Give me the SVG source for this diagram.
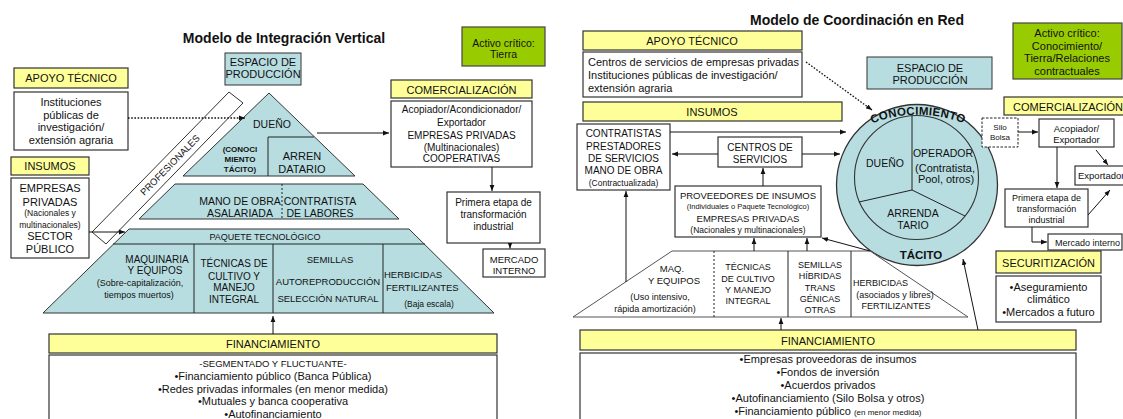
<svg xmlns="http://www.w3.org/2000/svg" width="1123" height="419" viewBox="0 0 1123 419">
<defs>
<style>
text{font-family:"Liberation Sans",Arial,sans-serif;fill:#111}
.c{text-anchor:middle}
.b{font-weight:bold}
.f7{font-size:7.5px}.f8{font-size:8px}.f85{font-size:8.5px}.f9{font-size:9px}.f95{font-size:9.5px}.f10{font-size:10px}.f105{font-size:10.5px}.f11{font-size:11px}.f115{font-size:11.5px}.f14{font-size:14px}
.box{fill:#fff;stroke:#333;stroke-width:1.2}
.yel{fill:#ffff99;stroke:#333;stroke-width:1.2}
.teal{fill:#b7dde1;stroke:#333;stroke-width:1}
.grn{fill:#99cc00;stroke:#444;stroke-width:1.2}
.ln{fill:none;stroke:#222;stroke-width:1}
.arr{fill:none;stroke:#111;stroke-width:1;marker-end:url(#ah)}
.dot{stroke-dasharray:1.6 1.6;stroke-width:1.3}
.dash{stroke-dasharray:2 2}
</style>
<marker id="ah" viewBox="0 0 10 10" refX="10" refY="5" markerWidth="6" markerHeight="6" orient="auto" markerUnits="userSpaceOnUse"><path d="M0,1 L10,5 L0,9 z" fill="#111"/></marker>
<path id="arcTop" d="M 862,128 A 125 125 0 0 1 974,128" fill="none"/>
</defs>
<rect width="1123" height="419" fill="#fff"/>

<!-- ================= LEFT: Modelo de Integración Vertical ================= -->
<g id="title-left"><text x="284" y="43" class="c b f14">Modelo de Integración Vertical</text></g>

<g id="activo-left"><rect x="462" y="27" width="83" height="39" class="grn"/>
<text x="503.5" y="47" class="c f105">Activo crítico:</text><text x="503.5" y="58" class="c f105">Tierra</text></g>

<g id="espacio-left"><rect x="225" y="53" width="76" height="32" class="teal"/>
<text x="263" y="66" class="c f11">ESPACIO DE</text><text x="263" y="78" class="c f11">PRODUCCIÓN</text></g>

<g id="apoyo-left"><rect x="14" y="68" width="114" height="20" class="yel"/>
<text x="71" y="82" class="c f11">APOYO TÉCNICO</text></g>
<g id="instituciones-left"><rect x="14" y="92" width="114" height="58" class="box"/>
<text x="71" y="106" class="c f11">Instituciones</text><text x="71" y="119" class="c f11">públicas de</text>
<text x="71" y="131" class="c f11">investigación/</text><text x="71" y="144" class="c f11">extensión agraria</text></g>

<g id="insumos-left"><rect x="11" y="157" width="78" height="18" class="yel"/>
<text x="50" y="170" class="c f11">INSUMOS</text></g>
<g id="insumos-content-left"><rect x="11" y="178" width="78" height="80" class="box"/>
<text x="50" y="192" class="c f11">EMPRESAS</text><text x="50" y="206" class="c f11">PRIVADAS</text>
<text x="50" y="216" class="c f85">(Nacionales y</text><text x="50" y="228" class="c f85">multinacionales)</text>
<text x="50" y="240" class="c f11">SECTOR</text><text x="50" y="253" class="c f11">PÚBLICO</text></g>

<g id="profesionales"><polygon points="229,92 243,103 106,244 92,232" fill="#fff" stroke="#333" stroke-width="1"/>
<text transform="translate(172.4,167.4) rotate(-45.6)" class="c f95">PROFESIONALES</text></g>

<g id="piramide-duenio"><polygon points="269,93 355,176 183,176" class="teal"/>
<polyline points="268,176 268,137 314,137" class="ln"/>
<text x="272" y="128" class="c f105">DUEÑO</text>
<text x="240" y="152" class="c b f8">(CONOCI</text><text x="240" y="162" class="c b f8">MIENTO</text><text x="240" y="172" class="c b f8">TÁCITO)</text>
<text x="302" y="160" class="c f11">ARREN</text><text x="302" y="173" class="c f11">DATARIO</text></g>

<g id="piramide-mano-obra"><polygon points="175,184 363,184 399,219 139,219" class="teal"/>
<line x1="282" y1="184" x2="282" y2="219" class="ln dash"/>
<text x="240" y="205" class="c f105">MANO DE OBRA</text><text x="240" y="216.5" class="c f105">ASALARIADA</text>
<text x="320" y="205" class="c f105">CONTRATISTA</text><text x="320" y="216.5" class="c f105">DE LABORES</text></g>

<g id="piramide-paquete"><polygon points="129,229 409,229 494,313 43,313" class="teal"/>
<line x1="113" y1="244" x2="425" y2="244" class="ln"/>
<line x1="194" y1="244" x2="194" y2="313" class="ln"/>
<line x1="273" y1="244" x2="273" y2="313" class="ln"/>
<line x1="383" y1="244" x2="383" y2="313" class="ln"/>
<text x="265" y="240" class="c f9">PAQUETE TECNOLÓGICO</text>
<text x="157" y="263" class="c f10">MAQUINARIA</text><text x="155" y="274" class="c f10">Y EQUIPOS</text>
<text x="140" y="286" class="c f9">(Sobre-capitalización,</text><text x="139" y="298" class="c f9">tiempos muertos)</text>
<text x="234" y="267" class="c f10">TÉCNICAS DE</text><text x="234" y="280" class="c f10">CULTIVO Y</text>
<text x="234" y="291" class="c f10">MANEJO</text><text x="234" y="303" class="c f10">INTEGRAL</text>
<text x="330" y="263" class="c f95">SEMILLAS</text><text x="328" y="284.5" class="c f95">AUTOREPRODUCCIÓN</text>
<text x="328" y="301.5" class="c f95">SELECCIÓN NATURAL</text>
<text x="384" y="277.5" class="f95">HERBICIDAS</text><text x="386" y="290.5" class="f95">FERTILIZANTES</text>
<text x="429" y="307" class="c f85">(Baja escala)</text></g>

<g id="comercializacion-left"><rect x="391" y="80" width="141" height="18" class="yel"/>
<text x="461.5" y="94" class="c f11">COMERCIALIZACIÓN</text></g>
<g id="comercializacion-content-left"><rect x="391" y="101" width="141" height="66" class="box"/>
<text x="461.5" y="113" class="c f10">Acopiador/Acondicionador/</text><text x="461.5" y="125.5" class="c f10">Exportador</text>
<text x="461.5" y="139" class="c f10">EMPRESAS PRIVADAS</text><text x="461.5" y="150.5" class="c f10">(Multinacionales)</text>
<text x="461.5" y="162" class="c f10">COOPERATIVAS</text></g>

<g id="primera-etapa-left"><rect x="447" y="192" width="93" height="51" class="box"/>
<text x="493.5" y="206" class="c f10">Primera etapa de</text><text x="493.5" y="218" class="c f10">transformación</text>
<text x="493.5" y="230" class="c f10">industrial</text></g>

<g id="mercado-interno-left"><rect x="483" y="249" width="62" height="28" class="box"/>
<text x="514" y="263" class="c f95">MERCADO</text><text x="514" y="273.5" class="c f95">INTERNO</text></g>

<g id="financiamiento-left"><rect x="49" y="334" width="448" height="19" class="yel"/>
<text x="273" y="348" class="c f11">FINANCIAMIENTO</text></g>
<g id="financiamiento-content-left"><rect x="49" y="355" width="448" height="72" class="box"/>
<text x="273" y="366.5" class="c f95">-SEGMENTADO Y FLUCTUANTE-</text>
<text x="273" y="379.5" class="c f11">•Financiamiento público (Banca Pública)</text>
<text x="273" y="392.5" class="c f11">•Redes privadas informales (en menor medida)</text>
<text x="273" y="405" class="c f11">•Mutuales y banca cooperativa</text>
<text x="273" y="417.5" class="c f11">•Autofinanciamiento</text></g>

<g id="connectors-left">
<line x1="128" y1="118" x2="245" y2="118" class="arr dot"/>
<line x1="89" y1="232" x2="125" y2="232" class="arr"/>
<line x1="317" y1="133" x2="389" y2="133" class="arr"/>
<line x1="492" y1="167" x2="492" y2="191" class="arr"/>
<line x1="510" y1="243" x2="510" y2="248.5" class="arr"/>
<line x1="273" y1="334" x2="273" y2="316" class="arr"/>
</g>

<!-- ================= RIGHT: Modelo de Coordinación en Red ================= -->
<g id="title-right"><text x="857" y="25" class="c b f14">Modelo de Coordinación en Red</text></g>

<g id="activo-right"><rect x="1013" y="23" width="109" height="56" class="grn"/>
<text x="1067" y="37" class="c f11">Activo crítico:</text><text x="1067" y="49.5" class="c f11">Conocimiento/</text>
<text x="1067" y="62" class="c f11">Tierra/Relaciones</text><text x="1067" y="74.5" class="c f11">contractuales</text></g>

<g id="apoyo-right"><rect x="583" y="31" width="219" height="19" class="yel"/>
<text x="692" y="45" class="c f11">APOYO TÉCNICO</text></g>
<g id="apoyo-content-right"><rect x="583" y="52" width="219" height="45" class="box"/>
<text x="588" y="66" class="f11">Centros de servicios de empresas privadas</text>
<text x="588" y="79" class="f11">Instituciones públicas de investigación/</text>
<text x="588" y="92" class="f11">extensión agraria</text></g>

<g id="espacio-right"><rect x="867" y="57" width="125" height="32" class="teal"/>
<text x="930" y="72" class="c f11">ESPACIO DE</text><text x="930" y="84" class="c f11">PRODUCCIÓN</text></g>

<g id="insumos-right"><rect x="583" y="102" width="259" height="19" class="yel"/>
<text x="712" y="116" class="c f11">INSUMOS</text></g>

<g id="contratistas-right"><rect x="577" y="124" width="93" height="66" class="box"/>
<text x="623.5" y="137" class="c f10">CONTRATISTAS</text><text x="623.5" y="150" class="c f10">PRESTADORES</text>
<text x="623.5" y="161.5" class="c f10">DE SERVICIOS</text><text x="623.5" y="174" class="c f10">MANO DE OBRA</text>
<text x="623.5" y="186" class="c f85">(Contractualizada)</text></g>

<g id="centros-servicios-right"><rect x="718" y="137" width="84" height="30" class="box"/>
<text x="760" y="151" class="c f10">CENTROS DE</text><text x="760" y="162.5" class="c f10">SERVICIOS</text></g>

<g id="proveedores-right"><rect x="675" y="186" width="146" height="51" class="box"/>
<text x="748" y="199" class="c f95">PROVEEDORES DE INSUMOS</text>
<text x="748" y="209" class="c f7">(Individuales o Paquete Tecnológico)</text>
<text x="748" y="222" class="c f95">EMPRESAS PRIVADAS</text>
<text x="748" y="233" class="c f85">(Nacionales y multinacionales)</text></g>

<g id="circulo-conocimiento">
<circle cx="917" cy="185" r="80.5" fill="#b7dde1" stroke="#333" stroke-width="1.3"/>
<circle cx="916.5" cy="177.5" r="62" fill="#b7dde1" stroke="#333" stroke-width="1.1"/>
<polyline points="912,115.7 912,190 859,202" class="ln"/>
<line x1="912" y1="190" x2="965" y2="216" class="ln"/>
<text class="b f115" letter-spacing="0.3"><textPath href="#arcTop" startOffset="50%" text-anchor="middle">CONOCIMIENTO</textPath></text>
<text x="885" y="167" class="c f105">DUEÑO</text>
<text x="943" y="157" class="c f105">OPERADOR</text><text x="945" y="172" class="c f11">(Contratista,</text>
<text x="946" y="183" class="c f11">Pool, otros)</text>
<text x="913" y="217" class="c f105">ARRENDA</text><text x="913" y="229" class="c f105">TARIO</text>
<text x="921" y="259" class="c b f115">TÁCITO</text></g>

<g id="silo-bolsa"><rect x="982" y="118" width="36" height="29" fill="#fff" stroke="#222" stroke-width="1" stroke-dasharray="2.5 1.5"/>
<text x="1000" y="130" class="c f8">Silo</text><text x="1000" y="140" class="c f8">Bolsa</text></g>

<g id="comercializacion-right"><rect x="1004" y="97" width="125" height="18" class="yel"/>
<text x="1013" y="110.5" class="f11">COMERCIALIZACIÓN</text></g>

<g id="acopiador-right"><rect x="1039" y="119" width="75" height="28" class="box"/>
<text x="1076.5" y="132" class="c f95">Acopiador/</text><text x="1076.5" y="143" class="c f95">Exportador</text></g>

<g id="exportador-right"><rect x="1075" y="166" width="60" height="19" class="box"/>
<text x="1078" y="179" class="f95">Exportador</text></g>

<g id="primera-etapa-right"><rect x="1005" y="189" width="83" height="38" class="box"/>
<text x="1046.5" y="201" class="c f9">Primera etapa de</text><text x="1046.5" y="212" class="c f9">transformación</text>
<text x="1046.5" y="222.5" class="c f9">industrial</text></g>

<g id="mercado-interno-right"><rect x="1048" y="234" width="74" height="16" class="box"/>
<text x="1055" y="246" class="f9">Mercado interno</text></g>

<g id="securitizacion"><rect x="996" y="251" width="105" height="22" class="yel"/>
<text x="1048.5" y="266.5" class="c f11">SECURITIZACIÓN</text></g>
<g id="securitizacion-content"><rect x="996" y="276" width="105" height="46" class="box"/>
<text x="1048.5" y="291" class="c f11">•Aseguramiento</text><text x="1048.5" y="303" class="c f11">climático</text>
<text x="1048.5" y="316" class="c f11">•Mercados a futuro</text></g>

<g id="paquete-right"><polygon points="672,251 870,251 968,317 573,317" fill="#fff" stroke="#555" stroke-width="1"/>
<line x1="714" y1="251" x2="714" y2="317" class="ln dash"/>
<line x1="788" y1="251" x2="788" y2="317" class="ln"/>
<line x1="851" y1="251" x2="851" y2="317" class="ln"/>
<text x="672" y="271.5" class="c f95">MAQ.</text><text x="674" y="283.5" class="c f95">Y EQUIPOS</text>
<text x="660" y="300" class="c f9">(Uso intensivo,</text><text x="655" y="312" class="c f9">rápida amortización)</text>
<text x="748" y="270" class="c f9">TÉCNICAS</text><text x="748" y="281.5" class="c f9">DE CULTIVO</text>
<text x="748" y="292.5" class="c f9">Y MANEJO</text><text x="748" y="303.5" class="c f9">INTEGRAL</text>
<text x="820" y="267.5" class="c f9">SEMILLAS</text><text x="820" y="279" class="c f9">HÍBRIDAS</text>
<text x="820" y="290.5" class="c f9">TRANS</text><text x="820" y="301.5" class="c f9">GÉNICAS</text>
<text x="820" y="312.5" class="c f9">OTRAS</text>
<text x="853" y="285.5" class="f9">HERBICIDAS</text>
<text x="895" y="297.5" class="c f9">(asociados y libres)</text>
<text x="896" y="308.5" class="c f9">FERTILIZANTES</text></g>

<g id="financiamiento-right"><rect x="580" y="330" width="496" height="20" class="yel"/>
<text x="828" y="345" class="c f11">FINANCIAMIENTO</text></g>
<g id="financiamiento-content-right"><rect x="580" y="353" width="496" height="72" class="box"/>
<text x="828" y="363" class="c f11">•Empresas proveedoras de insumos</text>
<text x="828" y="376" class="c f11">•Fondos de inversión</text>
<text x="828" y="389" class="c f11">•Acuerdos privados</text>
<text x="828" y="402" class="c f11">•Autofinanciamiento (Silo Bolsa y otros)</text>
<text x="828" y="414.5" class="c f11">•Financiamiento público <tspan class="f8">(en menor medida)</tspan></text></g>

<g id="connectors-right">
<line x1="806" y1="62" x2="872" y2="110" class="arr dot"/>
<line x1="670" y1="132" x2="846" y2="132" class="arr"/>
<line x1="718" y1="154" x2="672" y2="154" class="arr"/>
<line x1="802" y1="154" x2="840" y2="154" class="arr"/>
<line x1="763" y1="186" x2="763" y2="168" class="arr"/>
<line x1="626" y1="282" x2="626" y2="191" class="arr"/>
<line x1="754" y1="251" x2="754" y2="238" class="arr"/>
<line x1="807" y1="251" x2="807" y2="238" class="arr"/>
<line x1="870" y1="251" x2="822" y2="238" class="arr"/>
<line x1="781" y1="330" x2="781" y2="318" class="arr"/>
<line x1="978" y1="330" x2="963" y2="259" class="arr"/>
<line x1="1018" y1="132" x2="1038" y2="132" class="arr"/>
<line x1="1057" y1="147" x2="1057" y2="188" class="arr"/>
<line x1="1096" y1="150" x2="1108" y2="165" class="arr"/>
<line x1="1088" y1="215" x2="1110" y2="190" class="arr"/>
<polyline points="1032,227 1032,242 1047,242" class="arr"/>
</g>
</svg>
